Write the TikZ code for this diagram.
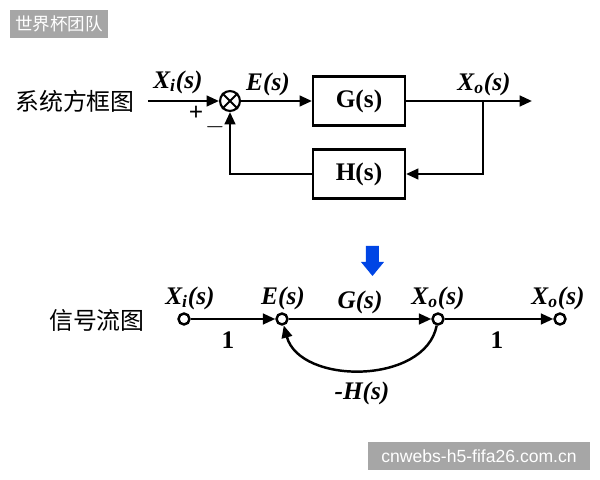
\documentclass[tikz,border=0pt]{standalone}
\usepackage{fontspec}
\setmainfont{Liberation Serif}
\newfontfamily\cjk{Noto Sans CJK SC}
\newfontfamily\wmfont{Liberation Sans}
\usetikzlibrary{arrows.meta,shapes.misc}
\tikzset{
  blk/.style = {draw, line width=1.4pt, minimum width=92\pxu, minimum height=49\pxu, font=\bfseries\Large},
  sig/.style = {line width=1.4pt, -{Triangle[length=7pt,width=6pt]}},
  lbl/.style = {font=\bfseries\itshape\Large},
  vx/.style = {circle, draw, line width=1.4pt, fill=white, minimum size=11\pxu, inner sep=0pt},
  wm/.style = {fill=black!35, text=white, inner sep=0pt},
  ttl/.style = {font=\cjk\fontsize{13.6}{16}\selectfont}
}
\newcommand{\pxu}{pt*0.5669}
\begin{document}
\begin{tikzpicture}[x=0.02cm,y=-0.02cm]
    \useasboundingbox (0,0) rectangle (600,480);
    % watermarks
    \node[wm, font=\cjk\normalsize, minimum width=98\pxu, minimum height=28\pxu] (wmA) at (59,24) {世界杯团队};
    \node[wm, font=\wmfont\normalsize, minimum width=222\pxu, minimum height=28\pxu] (wmB) at (479,456) {cnwebs-h5-fifa26.com.cn};

    % block diagram
    \node[ttl] (tA) at (75,101) {系统方框图};
    \coordinate (in) at (148,101);
    \node[circle, draw, line width=1.2pt, minimum size=20\pxu, inner sep=0pt] (sum) at (230,101) {};
    \draw[line width=1.1pt] (sum.north west) -- (sum.south east) (sum.north east) -- (sum.south west);
    \node[blk] (G) at (359,101) {G(s)};
    \node[blk] (H) at (359,174) {H(s)};
    \coordinate (br) at (483,101);
    \coordinate (out) at (532,101);
    \draw[sig] (in) -- (sum);
    \draw[sig] (sum) -- (G);
    \draw[sig] (G) -- (out);
    \draw[sig] (br) |- (H);
    \draw[sig] (H) -| (sum);
    \node[lbl] (lXi) at (178,82) {X\textsubscript{i}(s)};
    \node[lbl] (lE) at (268,84) {E(s)};
    \node[lbl] (lXo) at (484,84) {X\textsubscript{o}(s)};
    \node[font=\bfseries\Large] (plus) at (196,113) {+};
    \node[font=\bfseries\Large] (minus) at (215,127) {$-$};

    % blue arrow
    \fill[blue!70!cyan!90!black] (366,246) rectangle (379,262) (361,262) -- (384,262) -- (372.5,276) -- cycle;

    % signal flow graph
    \node[ttl] (tB) at (97,320) {信号流图};
    \node[vx] (nXi) at (184,319) {};
    \node[vx] (nE) at (282,319) {};
    \node[vx] (nXo) at (438,319) {};
    \node[vx] (nOut) at (560,319) {};
    \draw[sig] (nXi) -- (nE);
    \draw[sig] (nE) -- (nXo);
    \draw[sig] (nXo) -- (nOut);
    \draw[sig] (nXo) .. controls (425,385) and (300,385) .. (nE);
    \node[lbl] at (190,298) {X\textsubscript{i}(s)};
    \node[lbl] at (283,298) {E(s)};
    \node[lbl] at (360,302) {G(s)};
    \node[lbl] at (438,298) {X\textsubscript{o}(s)};
    \node[lbl] at (558,298) {X\textsubscript{o}(s)};
    \node[font=\bfseries\Large] at (228,340) {1};
    \node[font=\bfseries\Large] at (497,340) {1};
    \node[lbl] at (362,393) {-H(s)};
\end{tikzpicture}
\end{document}
